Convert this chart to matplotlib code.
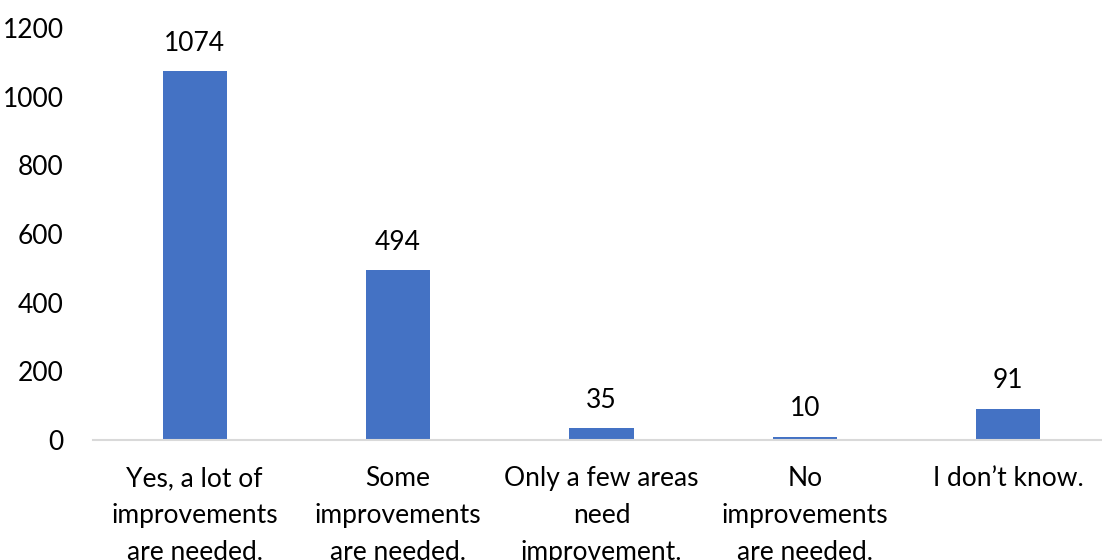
import matplotlib
matplotlib.use("Agg")
import matplotlib.pyplot as plt

plt.rcParams['font.family'] = ['Lato', 'DejaVu Sans']

categories = [
    "Yes, a lot of\nimprovements\nare needed.",
    "Some\nimprovements\nare needed.",
    "Only a few areas\nneed\nimprovement.",
    "No\nimprovements\nare needed.",
    "I don\u2019t know.",
]
counts = [1074, 494, 35, 10, 91]
yticks = [0, 200, 400, 600, 800, 1000, 1200]

fig = plt.figure(figsize=(11.02, 5.6), dpi=100)
ax = fig.add_axes([93 / 1102, 120 / 560, (1110 - 93) / 1102, 412 / 560])

x = range(len(categories))
bars = ax.bar(x, counts, width=0.315, color="#4472C4", zorder=2)

ax.set_xlim(-0.5, len(categories) - 0.5)
ax.set_ylim(0, 1200)
ax.set_yticks(yticks)
ax.set_yticklabels([str(t) for t in yticks], fontsize=19, color="#000000")
ax.set_xticks(list(x))
ax.set_xticklabels(categories, fontsize=19, color="#000000", linespacing=1.6)
ax.tick_params(axis="y", length=0, pad=21)
ax.tick_params(axis="x", length=0, pad=19)

for s in ["top", "right", "left"]:
    ax.spines[s].set_visible(False)
ax.spines["bottom"].set_color("#D9D9D9")
ax.spines["bottom"].set_linewidth(1.5)

for b, v in zip(bars, counts):
    ax.annotate(str(v), (b.get_x() + b.get_width() / 2, v),
                xytext=(0, 11), textcoords="offset points",
                ha="center", va="bottom", fontsize=19, color="#000000")

fig.savefig("out.png", dpi=100)
